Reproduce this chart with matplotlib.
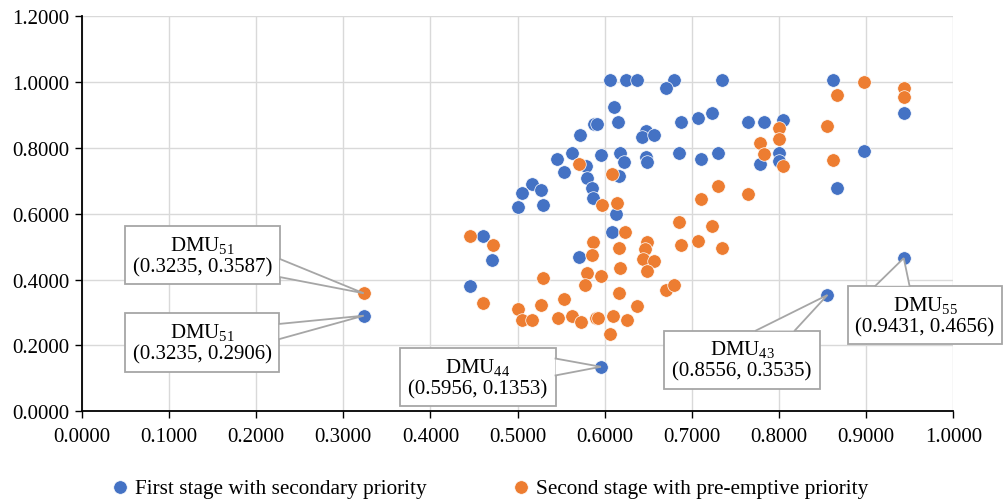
import matplotlib
matplotlib.use("Agg")
import matplotlib.pyplot as plt
from matplotlib.patches import Polygon
from matplotlib.lines import Line2D

plt.rcParams['font.family'] = ['Liberation Serif', 'DejaVu Serif']
plt.rcParams['mathtext.default'] = 'regular'

# first stage with secondary priority (blue)
first_x = [0.606, 0.624, 0.637, 0.680, 0.670, 0.735, 0.862, 0.943, 0.611, 0.615,
           0.588, 0.591, 0.572, 0.647, 0.643, 0.656, 0.687, 0.707, 0.723, 0.764,
           0.783, 0.805, 0.563, 0.596, 0.545, 0.617, 0.622, 0.647, 0.648, 0.685,
           0.711, 0.730, 0.800, 0.800, 0.778, 0.898, 0.867, 0.578, 0.553, 0.616,
           0.580, 0.585, 0.517, 0.527, 0.505, 0.587, 0.500, 0.529, 0.613, 0.460,
           0.608, 0.471, 0.570, 0.445, 0.3235, 0.5956, 0.8556, 0.9431]
first_y = [1.007, 1.007, 1.007, 1.007, 0.982, 1.007, 1.006, 0.906, 0.924, 0.880,
           0.872, 0.872, 0.841, 0.853, 0.835, 0.841, 0.880, 0.891, 0.906, 0.880,
           0.880, 0.886, 0.785, 0.778, 0.767, 0.785, 0.759, 0.772, 0.757, 0.785,
           0.767, 0.784, 0.784, 0.761, 0.753, 0.790, 0.678, 0.746, 0.728, 0.715,
           0.709, 0.678, 0.691, 0.672, 0.664, 0.647, 0.622, 0.628, 0.601, 0.532,
           0.546, 0.460, 0.468, 0.380, 0.2906, 0.1353, 0.3535, 0.4656]

# second stage with pre-emptive priority (orange)
second_x = [0.898, 0.943, 0.943, 0.867, 0.855, 0.800, 0.800, 0.778, 0.783, 0.804,
            0.862, 0.730, 0.711, 0.764, 0.685, 0.723, 0.707, 0.687, 0.735, 0.648,
            0.646, 0.644, 0.657, 0.649, 0.670, 0.680, 0.637, 0.570, 0.608, 0.597,
            0.614, 0.445, 0.472, 0.623, 0.587, 0.616, 0.585, 0.580, 0.577, 0.618,
            0.596, 0.616, 0.460, 0.500, 0.505, 0.517, 0.527, 0.529, 0.546, 0.553,
            0.563, 0.573, 0.590, 0.592, 0.610, 0.606, 0.625, 0.3235]
second_y = [1.000, 0.983, 0.954, 0.962, 0.866, 0.861, 0.828, 0.816, 0.782, 0.747,
            0.765, 0.684, 0.646, 0.660, 0.575, 0.564, 0.518, 0.505, 0.495, 0.514,
            0.492, 0.463, 0.456, 0.426, 0.368, 0.385, 0.320, 0.753, 0.721, 0.628,
            0.633, 0.532, 0.506, 0.544, 0.514, 0.495, 0.475, 0.419, 0.385, 0.436,
            0.410, 0.360, 0.328, 0.311, 0.277, 0.277, 0.322, 0.405, 0.284, 0.341,
            0.291, 0.271, 0.284, 0.284, 0.291, 0.234, 0.278, 0.3587]

# labelled DMUs: number and point
dmu_ids = [51, 51, 44, 43, 55]
dmu_x = [0.3235, 0.3235, 0.5956, 0.8556, 0.9431]
dmu_y = [0.3587, 0.2906, 0.1353, 0.3535, 0.4656]

# callout layout: box centre (data) and where the pointer leaves the box
box_x = [0.1385, 0.138, 0.4546, 0.7575, 0.9675]
box_y = [0.475, 0.209, 0.1037, 0.157, 0.293]
wedge_side = ['right', 'right', 'right', 'top', 'top']
wedge_from = [0.57, 0.18, 0.18, 0.59, 0.18]
wedge_to = [0.88, 0.44, 0.47, 0.84, 0.40]

BLUE = '#4472C4'
ORANGE = '#ED7D31'
GRID = '#d9d9d9'
BOXEDGE = '#a6a6a6'


def main():
    fig = plt.figure(figsize=(10.05, 5.02), dpi=100)
    ax = fig.add_axes([0.0814, 0.1787, 0.8672, 0.7865])

    ax.scatter(first_x, first_y, s=95, color=BLUE, edgecolors='white',
               linewidths=0.5, label='First stage with secondary priority', zorder=2)
    ax.scatter(second_x, second_y, s=95, color=ORANGE, edgecolors='white',
               linewidths=0.5, label='Second stage with pre-emptive priority', zorder=2)

    ax.set_xlim(0, 1)
    ax.set_ylim(0, 1.2)
    ax.set_xticks([i / 10 for i in range(11)])
    ax.set_yticks([i / 5 for i in range(7)])
    ax.xaxis.set_major_formatter(lambda v, pos: f"{v:.4f}")
    ax.yaxis.set_major_formatter(lambda v, pos: f"{v:.4f}")
    ax.tick_params(axis='both', labelsize=15, length=5, width=1, color='black')
    ax.tick_params(axis='x', pad=6)
    ax.tick_params(axis='y', pad=4)

    ax.grid(True, color=GRID, lw=1)
    ax.set_axisbelow(True)
    for side in ['top', 'right']:
        ax.spines[side].set_visible(False)
    for side in ['left', 'bottom']:
        ax.spines[side].set_color('black')
        ax.spines[side].set_linewidth(1.3)

    # text boxes first
    texts = []
    for n, px, py, bx, by in zip(dmu_ids, dmu_x, dmu_y, box_x, box_y):
        label = f"DMU$_{{{n}}}$\n({px:.4f}, {py:.4f})"
        t = ax.text(bx, by, label, ha='center', va='center', fontsize=15,
                    linespacing=1.15, zorder=5, clip_on=False,
                    bbox=dict(boxstyle='square,pad=0.38', fc='white', ec=BOXEDGE, lw=1.3))
        texts.append(t)

    fig.canvas.draw()
    renderer = fig.canvas.get_renderer()
    inv = ax.transData.inverted()

    # callout pointers: white wedge over the box border, two grey edges
    for t, px, py, side, f0, f1 in zip(texts, dmu_x, dmu_y, wedge_side, wedge_from, wedge_to):
        bb = t.get_bbox_patch().get_window_extent(renderer)
        if side == 'right':
            b0 = (bb.x1, bb.y1 - f0 * bb.height)
            b1 = (bb.x1, bb.y1 - f1 * bb.height)
        elif side == 'left':
            b0 = (bb.x0, bb.y1 - f0 * bb.height)
            b1 = (bb.x0, bb.y1 - f1 * bb.height)
        elif side == 'top':
            b0 = (bb.x0 + f0 * bb.width, bb.y1)
            b1 = (bb.x0 + f1 * bb.width, bb.y1)
        else:
            b0 = (bb.x0 + f0 * bb.width, bb.y0)
            b1 = (bb.x0 + f1 * bb.width, bb.y0)
        d0 = inv.transform(b0)
        d1 = inv.transform(b1)
        tri = Polygon([d0, (px, py), d1], closed=True, fc='white', ec='none',
                      zorder=6, clip_on=False)
        ax.add_patch(tri)
        ax.add_line(Line2D([d0[0], px, d1[0]], [d0[1], py, d1[1]], color=BOXEDGE,
                           lw=1.3, zorder=6, clip_on=False, solid_joinstyle='miter'))

    fig.legend(loc='center', bbox_to_anchor=(490 / 1005, 1 - 489 / 502), ncol=2,
               frameon=False, fontsize=15.3, handlelength=0.7, handletextpad=0.35,
               columnspacing=4.1, scatterpoints=1)

    fig.savefig('out.png', dpi=100)


if __name__ == "__main__":
    main()
